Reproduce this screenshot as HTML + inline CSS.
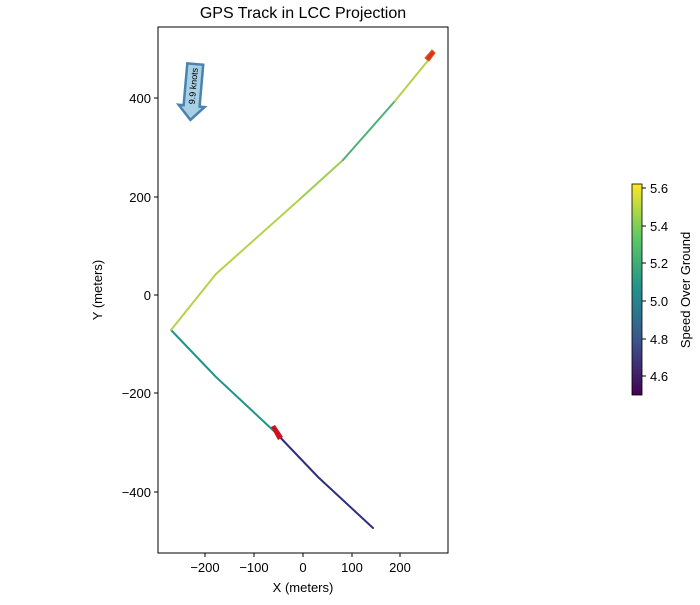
<!DOCTYPE html>
<html><head><style>body{margin:0;background:#fff}svg text{font-family:"Liberation Sans","DejaVu Sans",sans-serif}</style></head><body>
<svg width="700" height="600" xmlns="http://www.w3.org/2000/svg">
<defs><linearGradient id="vir" x1="0" y1="1" x2="0" y2="0">
<stop offset="0" stop-color="#440154"/><stop offset="0.25" stop-color="#3b528b"/><stop offset="0.5" stop-color="#21918c"/><stop offset="0.75" stop-color="#5ec962"/><stop offset="1" stop-color="#fde725"/></linearGradient></defs>
<text x="303" y="18" font-size="16" text-anchor="middle">GPS Track in LCC Projection</text>
<rect x="158" y="27" width="290" height="526" fill="none" stroke="#000" stroke-width="1"/>
<g font-size="13" text-anchor="middle">
<g stroke="#000"><line x1="205" y1="553" x2="205" y2="557"/><line x1="254" y1="553" x2="254" y2="557"/><line x1="303" y1="553" x2="303" y2="557"/><line x1="352" y1="553" x2="352" y2="557"/><line x1="400" y1="553" x2="400" y2="557"/></g>
<text x="205" y="572">−200</text><text x="254" y="572">−100</text><text x="303" y="572">0</text><text x="352" y="572">100</text><text x="400" y="572">200</text>
<text x="303" y="592">X (meters)</text>
</g>
<g font-size="13" text-anchor="end">
<g stroke="#000"><line x1="154" y1="98" x2="158" y2="98"/><line x1="154" y1="197" x2="158" y2="197"/><line x1="154" y1="295" x2="158" y2="295"/><line x1="154" y1="393" x2="158" y2="393"/><line x1="154" y1="492" x2="158" y2="492"/></g>
<text x="151" y="103">400</text><text x="151" y="202">200</text><text x="151" y="300">0</text><text x="151" y="398">−200</text><text x="151" y="497">−400</text>
</g>
<text transform="translate(102,290) rotate(-90)" font-size="13" text-anchor="middle">Y (meters)</text>
<g fill="none" stroke-width="2" stroke-linecap="round">
<polyline points="373,528 318,477 276,433" stroke="#2e2f7e"/>
<polyline points="276,433 216,377 171,330" stroke="#20958b"/>
<polyline points="171,330 216,274 300,199" stroke="#b5d34a"/>
<polyline points="300,199 343,160" stroke="#9fcf52"/>
<polyline points="343,160 395,101" stroke="#4cb279"/>
<polyline points="395,101 430,58" stroke="#b5d34a"/>
</g>
<polygon points="432,50 435,53 429,61 425,58" fill="#e03020" stroke="#d06010" stroke-width="1"/>
<polygon points="271,427 275,425 283,437 278,440" fill="#d01020"/>
<g transform="translate(193,90) rotate(5)">
<polygon points="-8,-26 8,-26 8,16 13,16 0,30 -13,16 -8,16" fill="#a8d0e4" stroke="#4a82b0" stroke-width="2.5"/>
<text transform="translate(3,-4) rotate(-90)" font-size="9" text-anchor="middle">9.9 knots</text>
</g>
<rect x="632" y="184" width="10" height="211" fill="url(#vir)" stroke="#000" stroke-width="0.8"/>
<g font-size="13" stroke="#000">
<line x1="642" y1="188" x2="646" y2="188"/><line x1="642" y1="226" x2="646" y2="226"/><line x1="642" y1="263" x2="646" y2="263"/><line x1="642" y1="301" x2="646" y2="301"/><line x1="642" y1="339" x2="646" y2="339"/><line x1="642" y1="376" x2="646" y2="376"/>
</g>
<g font-size="13"><text x="650" y="193">5.6</text><text x="650" y="231">5.4</text><text x="650" y="268">5.2</text><text x="650" y="306">5.0</text><text x="650" y="344">4.8</text><text x="650" y="381">4.6</text></g>
<text transform="translate(690,290) rotate(-90)" font-size="13" text-anchor="middle">Speed Over Ground</text>
</svg>
</body></html>
